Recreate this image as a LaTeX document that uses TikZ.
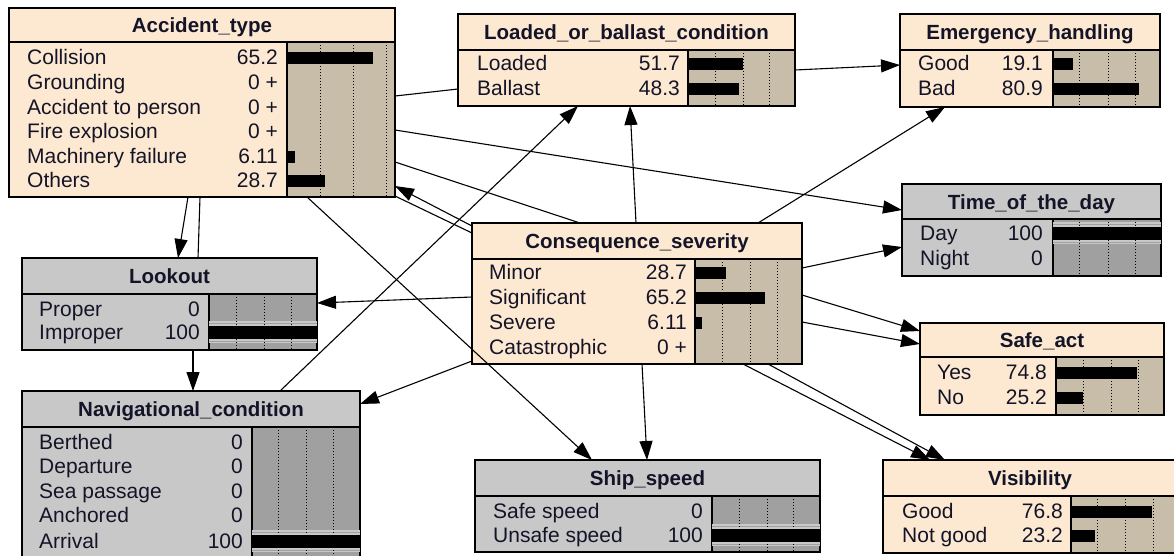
\documentclass[tikz,border=0pt]{standalone}
\usepackage{fontspec}
\setmainfont{Liberation Sans}
\usetikzlibrary{arrows.meta}
\definecolor{beigehdr}{RGB}{253,233,209}
\definecolor{beigebar}{RGB}{199,189,168}
\definecolor{greyhdr}{RGB}{200,200,200}
\definecolor{greybar}{RGB}{160,160,160}
\definecolor{ink}{RGB}{20,20,40}
\tikzset{
  bnframe/.style={anchor=north west, inner sep=0pt, outer sep=0pt},
  bnline/.style={draw=black, line width=1.3pt},
  bndot/.style={black, line width=1pt, dash pattern=on 1.2pt off 1.8pt},
  bntext/.style={font=\fontsize{21}{24}\selectfont, text=ink, inner sep=0pt},
  bntitle/.style={font=\fontsize{20.5}{24}\selectfont\bfseries, text=ink, inner sep=0pt, anchor=base},
  link/.style={draw=black, line width=1.1pt},
  arrowlink/.style={link, -{Triangle[length=19pt,width=13pt]}}
}
% #1 colour prefix, #2 name, #3 x1, #4 y1, #5 x2, #6 y2, #7 header bottom, #8 split, #9 title
\newcommand{\BNbox}[9]{%
  \node[bnframe, fill=#1hdr, minimum width={#5-#3}, minimum height={#6-#4}] (#2) at (#3,#4) {};
  \fill[#1bar] (#8,#7) rectangle (#5,#6);
  \draw[bnline] (#3,#7) -- (#5,#7) (#8,#7) -- (#8,#6);
  \draw[bnline] (#2.north west) rectangle (#2.south east);
  \node[bntitle] at ({(#3+#5)/2},{(#4+#7)/2+7.5}) {#9};
}
% grid: y1, y2, list of x
\newcommand{\BNgrid}[3]{\foreach \gx in {#3} {\draw[bndot] (\gx,#1) -- (\gx,#2);}}
% bar: x0, y, length
\newcommand{\BNbar}[3]{\fill[black] (#1,{#2-5.5}) rectangle ({#1+#3},{#2+6.5});}
% set bar: x0, x1, y
\newcommand{\BNset}[3]{%
  \fill[greyhdr] (#1,{#3-11}) rectangle (#2,{#3+11});
  \draw[greybar, line width=1pt] (#1,{#3-9}) -- (#2,{#3-9}) (#1,{#3+9.5}) -- (#2,{#3+9.5});
}
\newcommand{\BNsetbar}[3]{\fill[black] (#1,{#3-6}) rectangle (#2,{#3+7});}
% row: label x, number right x, y, label, value
\newcommand{\BNrow}[5]{%
  \node[bntext, anchor=base west] at (#1,{#3+7}) {#4};
  \node[bntext, anchor=base east] at (#2,{#3+7}) {#5};
}
\begin{document}
\begin{tikzpicture}[x=1pt,y=-1pt]
\useasboundingbox (0,0) rectangle (1174,555);
\fill[white] (0,0) rectangle (1174,555);
\clip (0,0) rectangle (1174,555);

% ---------- Accident_type
\BNbox{beige}{acc}{9}{8}{395}{197}{42}{287}{Accident\_type}
\BNgrid{42}{197}{320,353,386}
\BNbar{287}{57}{86}
\BNbar{287}{156}{8}
\BNbar{287}{180}{38}
\BNrow{27}{278}{57}{Collision}{65.2}
\BNrow{27}{278}{82}{Grounding}{0 +}
\BNrow{27}{278}{107}{Accident to person}{0 +}
\BNrow{27}{278}{131}{Fire explosion}{0 +}
\BNrow{27}{278}{156}{Machinery failure}{6.11}
\BNrow{27}{278}{180}{Others}{28.7}

% ---------- Loaded_or_ballast_condition
\BNbox{beige}{lob}{458}{14}{795}{106}{50}{688}{Loaded\_or\_ballast\_condition}
\BNgrid{50}{106}{715,743,769}
\BNbar{688}{63}{55}
\BNbar{688}{88}{51}
\BNrow{477}{680}{63}{Loaded}{51.7}
\BNrow{477}{680}{88}{Ballast}{48.3}

% ---------- Emergency_handling
\BNbox{beige}{emg}{900}{14}{1160}{107}{50}{1053}{Emergency\_handling}
\BNgrid{50}{107}{1079,1108,1135}
\BNbar{1053}{63}{20}
\BNbar{1053}{88}{86}
\BNrow{918}{1043}{63}{Good}{19.1}
\BNrow{918}{1043}{88}{Bad}{80.9}

% ---------- Lookout
\BNbox{grey}{look}{22}{258}{317}{350}{294}{209}{Lookout}
\BNset{209}{317}{332}
\BNgrid{294}{350}{236,264,291}
\BNsetbar{209}{317}{332}
\BNrow{39}{200}{309}{Proper}{0}
\BNrow{39}{200}{332}{Improper}{100}

% ---------- Time_of_the_day
\BNbox{grey}{tod}{902}{184}{1161}{276}{219}{1053}{Time\_of\_the\_day}
\BNset{1053}{1161}{233}
\BNgrid{219}{276}{1079,1108,1135}
\BNsetbar{1053}{1161}{233}
\BNrow{920}{1043}{233}{Day}{100}
\BNrow{920}{1043}{258}{Night}{0}

% ---------- Safe_act
\BNbox{beige}{safe}{920}{323}{1164}{415}{357}{1056}{Safe\_act}
\BNgrid{357}{415}{1083,1111,1138}
\BNbar{1056}{372}{81}
\BNbar{1056}{397}{27}
\BNrow{937}{1047}{372}{Yes}{74.8}
\BNrow{937}{1047}{397}{No}{25.2}

% ---------- Consequence_severity
\BNbox{beige}{cons}{472}{223}{802}{364}{259}{695}{Consequence\_severity}
\BNgrid{259}{364}{722,750,777}
\BNbar{695}{272}{31}
\BNbar{695}{297}{70}
\BNbar{695}{322}{7}
\BNrow{489}{687}{272}{Minor}{28.7}
\BNrow{489}{687}{297}{Significant}{65.2}
\BNrow{489}{687}{322}{Severe}{6.11}
\BNrow{489}{687}{347}{Catastrophic}{0 +}

% ---------- Navigational_condition
\BNbox{grey}{nav}{22}{391}{360}{575}{427}{252}{Navigational\_condition}
\BNset{252}{360}{541}
\BNgrid{427}{575}{278,306,333}
\BNsetbar{252}{360}{541}
\BNrow{39}{243}{442}{Berthed}{0}
\BNrow{39}{243}{466}{Departure}{0}
\BNrow{39}{243}{491}{Sea passage}{0}
\BNrow{39}{243}{515}{Anchored}{0}
\BNrow{39}{243}{541}{Arrival}{100}

% ---------- Ship_speed
\BNbox{grey}{ship}{475}{460}{820}{552}{496}{712}{Ship\_speed}
\BNset{712}{820}{535}
\BNgrid{496}{552}{739,767,793}
\BNsetbar{712}{820}{535}
\BNrow{493}{703}{511}{Safe speed}{0}
\BNrow{493}{703}{535}{Unsafe speed}{100}

% ---------- Visibility
\BNbox{beige}{vis}{883}{460}{1177}{553}{496}{1071}{Visibility}
\BNgrid{496}{553}{1097,1125,1153}
\BNbar{1071}{511}{81}
\BNbar{1071}{535}{24}
\BNrow{902}{1063}{511}{Good}{76.8}
\BNrow{902}{1063}{535}{Not good}{23.2}

% ---------- connectors
\draw[arrowlink] (188,0 |- acc.south) -- (178,0 |- look.north);
\draw[link] (200,0 |- acc.south) -- (198,0 |- look.north);
\draw[arrowlink] (193,0 |- look.south) -- (193,0 |- nav.north);
\draw[arrowlink] (cons.west |- 0,297) -- (look.east |- 0,303);
\draw[arrowlink] (cons.west |- 0,361) -- (nav.east |- 0,404);
\draw[arrowlink] (280,0 |- nav.north) -- (578,0 |- lob.south);
\draw[arrowlink] (636,0 |- cons.north) -- (630,0 |- lob.south);
\draw[link] (acc.east |- 0,96) -- (lob.west |- 0,89);
\draw[arrowlink] (lob.east |- 0,70) -- (emg.west |- 0,65);
\draw[arrowlink] (acc.east |- 0,130) -- (tod.west |- 0,210);
\draw[link] (acc.east |- 0,162) -- (580,0 |- cons.north);
\draw[arrowlink] (cons.west |- 0,226) -- (acc.east |- 0,186);
\draw[link] (acc.east |- 0,196) -- (cons.west |- 0,233);
\draw[arrowlink] (758,0 |- cons.north) -- (945,0 |- emg.south);
\draw[arrowlink] (cons.east |- 0,268) -- (tod.west |- 0,247);
\draw[arrowlink] (cons.east |- 0,295) -- (safe.west |- 0,331);
\draw[arrowlink] (cons.east |- 0,322) -- (safe.west |- 0,344);
\draw[arrowlink] (743,0 |- cons.south) -- (930,0 |- vis.north);
\draw[arrowlink] (768,0 |- cons.south) -- (945,0 |- vis.north);
\draw[arrowlink] (642,0 |- cons.south) -- (647,0 |- ship.north);
\draw[arrowlink] (307,0 |- acc.south) -- (592,0 |- ship.north);
\end{tikzpicture}
\end{document}
